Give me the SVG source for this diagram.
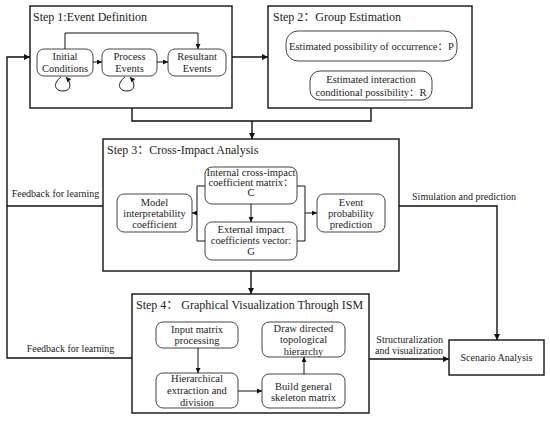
<svg xmlns="http://www.w3.org/2000/svg" width="550" height="425" viewBox="0 0 550 425" font-family="'Liberation Serif','Noto Sans CJK SC',serif">
<defs>
<marker id="ah" viewBox="0 0 10 10" refX="10" refY="5" markerWidth="6" markerHeight="6" markerUnits="userSpaceOnUse" orient="auto">
<path d="M0,0 L10,5 L0,10 z" fill="#111"/>
</marker>
<marker id="ahs" viewBox="0 0 10 10" refX="10" refY="5" markerWidth="5" markerHeight="5" markerUnits="userSpaceOnUse" orient="auto">
<path d="M0,0 L10,5 L0,10 z" fill="#111"/>
</marker>
</defs>
<style>
.step{fill:#fff;stroke:#111;stroke-width:1.4}
.node{fill:#fff;stroke:#444;stroke-width:1}
.title{font-size:12px;fill:#222}
.t{font-size:10.5px;fill:#222;text-anchor:middle}
.lbl{font-size:10px;fill:#222}
.c{fill:none;stroke:#111;stroke-width:1.4}
.ci{fill:none;stroke:#111;stroke-width:1}
</style>
<rect width="550" height="425" fill="#fff"/>

<g id="step1">
<rect class="step" x="30" y="6" width="202" height="102"/>
<text class="title" x="33" y="21">Step 1:Event  Definition</text>
</g>
<g id="initial">
<rect class="node" x="37" y="49" width="56" height="27" rx="7"/>
<text class="t" x="65" y="60">Initial</text>
<text class="t" x="65" y="72">Conditions</text>
</g>
<g id="process">
<rect class="node" x="102" y="49" width="55" height="27" rx="7"/>
<text class="t" x="129.5" y="60">Process</text>
<text class="t" x="129.5" y="72">Events</text>
</g>
<g id="resultant">
<rect class="node" x="168" y="49" width="58" height="27" rx="7"/>
<text class="t" x="197" y="60">Resultant</text>
<text class="t" x="197" y="72">Events</text>
</g>

<g id="step2">
<rect class="step" x="268" y="6" width="204" height="102"/>
<text class="title" x="273" y="21">Step 2：Group Estimation</text>
</g>
<g id="occurrence">
<rect class="node" x="286" y="31" width="171" height="30" rx="12"/>
<text class="t" x="371.5" y="50">Estimated possibility of occurrence：P</text>
</g>
<g id="interaction">
<rect class="node" x="310" y="71" width="122" height="29" rx="10"/>
<text class="t" x="371" y="83">Estimated interaction</text>
<text class="t" x="371" y="96">conditional possibility：R</text>
</g>

<g id="step3">
<rect class="step" x="103" y="139" width="296" height="132"/>
<text class="title" x="107" y="154">Step 3：Cross-Impact Analysis</text>
</g>
<g id="internal">
<rect class="node" x="205" y="167" width="92" height="37" rx="7"/>
<text class="t" x="251" y="176">Internal cross-impact</text>
<text class="t" x="251" y="186">coefficient matrix：</text>
<text class="t" x="251" y="196">C</text>
</g>
<g id="external">
<rect class="node" x="205" y="222" width="92" height="38" rx="7"/>
<text class="t" x="251" y="233">External impact</text>
<text class="t" x="251" y="244">coefficients vector:</text>
<text class="t" x="251" y="255">G</text>
</g>
<g id="model">
<rect class="node" x="117" y="194" width="75" height="38" rx="7"/>
<text class="t" x="154.5" y="206">Model</text>
<text class="t" x="154.5" y="217">interpretability</text>
<text class="t" x="154.5" y="228">coefficient</text>
</g>
<g id="event">
<rect class="node" x="317" y="194" width="68" height="38" rx="7"/>
<text class="t" x="351" y="206">Event</text>
<text class="t" x="351" y="217">probability</text>
<text class="t" x="351" y="228">prediction</text>
</g>

<g id="step4">
<rect class="step" x="132" y="294" width="237" height="119"/>
<text class="title" x="136" y="309">Step 4：  Graphical Visualization Through ISM</text>
</g>
<g id="input">
<rect class="node" x="156" y="322" width="82" height="26" rx="7"/>
<text class="t" x="197" y="333">Input matrix</text>
<text class="t" x="197" y="344">processing</text>
</g>
<g id="hierarchical">
<rect class="node" x="156" y="373" width="82" height="35" rx="7"/>
<text class="t" x="197" y="382">Hierarchical</text>
<text class="t" x="197" y="394">extraction and</text>
<text class="t" x="197" y="406">division</text>
</g>
<g id="draw">
<rect class="node" x="262" y="322" width="83" height="35" rx="7"/>
<text class="t" x="303.5" y="331.5">Draw directed</text>
<text class="t" x="303.5" y="343">topological</text>
<text class="t" x="303.5" y="354.5">hierarchy</text>
</g>
<g id="build">
<rect class="node" x="262" y="374" width="83" height="34" rx="7"/>
<text class="t" x="303.5" y="390">Build general</text>
<text class="t" x="303.5" y="401">skeleton matrix</text>
</g>

<g id="scenario">
<rect class="step" x="449" y="340" width="95" height="35"/>
<text class="lbl" x="496.5" y="361" text-anchor="middle">Scenario Analysis</text>
</g>

<g id="connectors">
<path class="ci" d="M93,62 H102" marker-end="url(#ahs)"/>
<path class="ci" d="M157,62 H168" marker-end="url(#ahs)"/>
<path class="ci" d="M65,49 V33 H198 V49" marker-end="url(#ahs)"/>
<path class="ci" d="M61,77 C52,84 55,91 63,91 C71,91 72,84 66,77" marker-end="url(#ahs)"/>
<path class="ci" d="M125,77 C116,84 119,91 127,91 C135,91 136,84 130,77" marker-end="url(#ahs)"/>
<path class="c" d="M232,57 H268" marker-end="url(#ah)"/>
<path class="c" d="M132,108 V121 H371 V108"/>
<path class="c" d="M252,121 V139" marker-end="url(#ah)"/>
<path class="ci" d="M251,204 V222" marker-end="url(#ahs)"/>
<path class="ci" d="M205,186 H197 V241 H205"/>
<path class="ci" d="M197,213 H192" marker-end="url(#ahs)"/>
<path class="ci" d="M297,186 H305 V241 H297"/>
<path class="ci" d="M305,213 H317" marker-end="url(#ahs)"/>
<path class="c" d="M251,271 V294" marker-end="url(#ah)"/>
<path class="ci" d="M198,348 V373" marker-end="url(#ahs)"/>
<path class="ci" d="M238,391 H262" marker-end="url(#ahs)"/>
<path class="ci" d="M304,374 V357" marker-end="url(#ahs)"/>
<path class="c" d="M399,206 H497 V340" marker-end="url(#ah)"/>
<path class="c" d="M369,359 H449" marker-end="url(#ah)"/>
<path class="c" d="M132,358 H7 V57 H30" marker-end="url(#ah)"/>
<path class="c" d="M103,206 H7"/>
<text class="lbl" x="55.5" y="197" text-anchor="middle">Feedback for learning</text>
<text class="lbl" x="70.5" y="352" text-anchor="middle">Feedback for learning</text>
<text class="lbl" x="464" y="200" text-anchor="middle">Simulation and prediction</text>
<text class="lbl" x="443" y="343" text-anchor="end">Structuralization</text>
<text class="lbl" x="443" y="354" text-anchor="end">and visualization</text>
</g>
</svg>
